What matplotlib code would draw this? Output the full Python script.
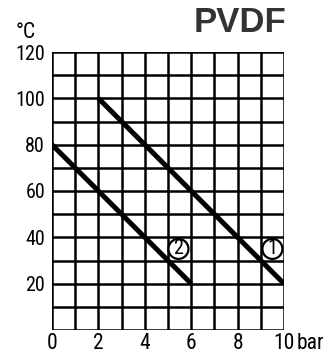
import matplotlib
matplotlib.use("Agg")
import matplotlib.pyplot as plt
from matplotlib import font_manager
from matplotlib.patches import Ellipse

# Pressure (bar) vs. temperature (°C) curves
curve1_bar = [2, 10]
curve1_temp = [100, 20]
curve2_bar = [0, 6]
curve2_temp = [80, 20]

x_ticks = [0, 2, 4, 6, 8, 10]
x_tick_labels = ["0", "2", "4", "6", "8", "10"]
y_ticks = [20, 40, 60, 80, 100, 120]
y_tick_labels = ["20", "40", "60", "80", "100", "120"]

curve_labels = ["1", "2"]
label_pos = [(9.5, 35), (5.45, 35)]

names = {f.name for f in font_manager.fontManager.ttflist}
narrow = "DejaVu Sans"
for cand in ["Roboto Condensed", "Liberation Sans Narrow", "DejaVu Sans Condensed",
             "Open Sans Condensed", "Noto Sans Condensed"]:
    if cand in names:
        narrow = cand
        break

fig = plt.figure(figsize=(3.29, 3.54), dpi=100)
ax = fig.add_axes([52 / 329, (354 - 330) / 354, (284 - 52) / 329, (330 - 52) / 354])

ax.set_xlim(0, 10)
ax.set_ylim(0, 120)

for x in range(0, 11):
    ax.axvline(x, color="black", lw=1.8, zorder=1)
for y in range(0, 121, 10):
    ax.axhline(y, color="black", lw=1.8, zorder=1)

ax.plot(curve1_bar, curve1_temp, color="black", lw=3.6, solid_capstyle="butt", zorder=3)
ax.plot(curve2_bar, curve2_temp, color="black", lw=3.6, solid_capstyle="butt", zorder=3)

for spine in ax.spines.values():
    spine.set_visible(False)

x_font = dict(family=narrow, size=15.5)
y_font = dict(family=narrow, size=14.5)
ax.set_xticks(x_ticks)
ax.set_xticklabels(x_tick_labels, **x_font)
ax.set_yticks(y_ticks)
ax.set_yticklabels(y_tick_labels, **y_font)
ax.tick_params(axis="x", length=0, pad=2)
ax.tick_params(axis="y", length=0, pad=5)

bar_lbl = ax.text(10.56, -0.01, "bar", ha="left", va="top", clip_on=False,
                  transform=ax.get_xaxis_transform(), **x_font)

# circled curve labels
x_per_px = 10 / (284 - 52)
y_per_px = 120 / (330 - 52)
r_px = 10
for txt, (lx, ly) in zip(curve_labels, label_pos):
    ax.add_patch(Ellipse((lx, ly), 2 * r_px * x_per_px, 2 * r_px * y_per_px,
                         facecolor="white", edgecolor="black", lw=1.6, zorder=4))
    ax.text(lx, ly, txt, ha="center", va="center", zorder=5, family=narrow, size=14.5)

fig.text(16 / 329, 1 - 32 / 354, "°C", ha="left", va="center", family=narrow, size=15.5)
fig.text(286 / 329, 1 - 22 / 354, "PVDF", ha="right", va="center",
         family="Liberation Sans", weight="bold", size=25, color="#333333")

fig.savefig("out.png", dpi=100)
